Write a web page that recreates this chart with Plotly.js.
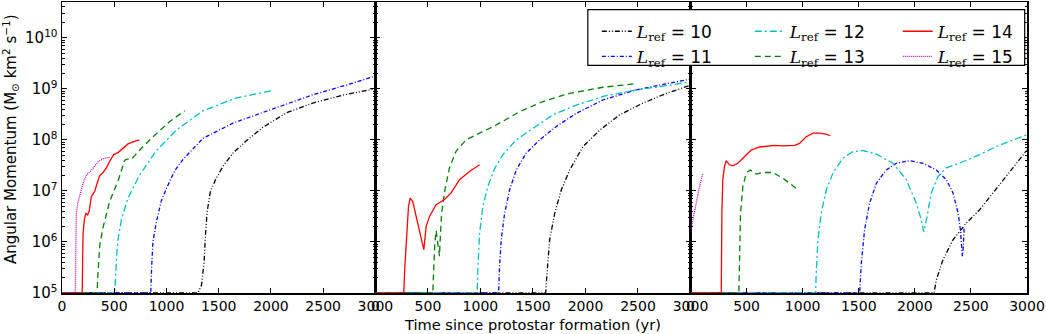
<!DOCTYPE html>
<html>
<head>
<meta charset="utf-8">
<script src="https://cdn.plot.ly/plotly-3.0.1.min.js"></script>
<style>
  html, body { margin: 0; padding: 0; background: #fff; }
  #chart { width: 1046px; height: 334px; }
</style>
</head>
<body>
<div id="chart"></div>
<script>
// Angular momentum vs. time since protostar formation, three runs side by side,
// one curve per refinement level L_ref.

const levels = [10, 11, 12, 13, 14, 15];
const colors = ['#000000', '#0000ff', '#00bfbf', '#008000', '#ff0000', '#bf00bf'];
const dashes = ['5px,2px,1px,2px,1px,2px', '4px,2px,1px,2px', '7px,3px,2px,3px', '6px,4px', 'solid', '1px,1px'];

// ---- Panel 1 ----
const p1_t10 = [0, 1300, 1335, 1360, 1375, 1390, 1420, 1470, 1540, 1640, 1760, 1920, 2150, 2400, 2700, 3000];
const p1_j10 = [1e5, 1e5, 1.41e5, 3.98e5, 1.58e6, 3.98e6, 9.55e6, 1.66e7, 3.02e7, 5.62e7, 9.33e7, 1.74e8, 3.39e8, 5.25e8, 7.59e8, 1e9];
const p1_t11 = [0, 850, 858, 870, 904, 950, 1000, 1080, 1160, 1350, 1640, 2020, 2400, 2800, 3000];
const p1_j11 = [1e5, 1e5, 3.16e5, 1e6, 2.51e6, 6.31e6, 1.12e7, 2.51e7, 4.17e7, 1.07e8, 2.14e8, 3.98e8, 7.59e8, 1.32e9, 1.78e9];
const p1_t12 = [0, 505, 515, 525, 540, 570, 630, 740, 900, 1100, 1350, 1670, 2005];
const p1_j12 = [1e5, 1e5, 2.51e5, 6.31e5, 1.26e6, 2.82e6, 7.08e6, 2e7, 6.03e7, 1.58e8, 3.72e8, 6.61e8, 9.12e8];
const p1_t13 = [0, 336, 342, 350, 362, 395, 457, 537, 600, 625, 665, 700, 744, 872, 1032, 1175];
const p1_j13 = [1e5, 1e5, 2e5, 3.98e5, 8.91e5, 2e6, 6.31e6, 1.58e7, 3.98e7, 4.17e7, 4.17e7, 5.01e7, 6.31e7, 1.15e8, 2.29e8, 3.72e8];
const p1_t14 = [0, 194, 198, 202, 215, 228, 245, 260, 281, 313, 336, 361, 393, 425, 457, 495, 537, 585, 632, 680, 740];
const p1_j14 = [1e5, 1e5, 5.01e5, 1.48e6, 2.82e6, 3.63e6, 3.39e6, 3.98e6, 7.76e6, 9.77e6, 1.41e7, 2e7, 2.29e7, 2.82e7, 3.8e7, 5.13e7, 5.62e7, 6.92e7, 8.32e7, 9.12e7, 1e8];
const p1_t15 = [0, 128, 132, 138, 150, 170, 201, 234, 281, 345, 393, 460];
const p1_j15 = [1e5, 1e5, 7.94e5, 3.63e6, 5.62e6, 7.76e6, 1.41e7, 2.04e7, 2.51e7, 3.72e7, 4.27e7, 4.57e7];

// ---- Panel 2 ----
const p2_t10 = [0, 1621, 1634, 1659, 1707, 1770, 1850, 1977, 2136, 2326, 2549, 2771, 3000];
const p2_j10 = [1e5, 1e5, 2.45e5, 1.1e6, 3.63e6, 1.05e7, 2.57e7, 7.41e7, 1.55e8, 3.09e8, 5.25e8, 8.13e8, 1.17e9];
const p2_t11 = [0, 1173, 1182, 1198, 1230, 1278, 1341, 1436, 1564, 1722, 1913, 2167, 2485, 2803, 3000];
const p2_j11 = [1e5, 1e5, 3.31e5, 1.1e6, 3.63e6, 1.05e7, 2.57e7, 5.5e7, 1e8, 1.82e8, 3.31e8, 6.03e8, 9.55e8, 1.29e9, 1.55e9];
const p2_t12 = [0, 969, 976, 992, 1023, 1071, 1135, 1214, 1341, 1500, 1691, 1913, 2167, 2485, 2803, 3000];
const p2_j12 = [1e5, 1e5, 3.31e5, 1.48e6, 4.9e6, 1.23e7, 2.75e7, 5.13e7, 1e8, 1.7e8, 3.09e8, 4.79e8, 7.08e8, 9.55e8, 1.17e9, 1.38e9];
const p2_t13 = [0, 546, 556, 565, 578, 590, 600, 610, 618, 630, 660, 705, 769, 864, 992, 1150, 1373, 1595, 1850, 2167, 2485];
const p2_j13 = [1e5, 1e5, 3.16e5, 8.91e5, 1.66e6, 1.12e6, 7.08e5, 5.25e5, 1.26e6, 3.55e6, 1e7, 2.82e7, 6.03e7, 1e8, 1.35e8, 1.95e8, 3.55e8, 5.62e8, 8.13e8, 1.07e9, 1.26e9];
const p2_t14 = [0, 270, 280, 292, 315, 331, 356, 388, 420, 451, 461, 483, 515, 578, 658, 721, 801, 896, 992];
const p2_j14 = [1e5, 1e5, 3.16e5, 9.55e5, 4.9e6, 7.24e6, 6.17e6, 3.16e6, 1.58e6, 8.13e5, 7.08e5, 2e6, 3.16e6, 5.37e6, 6.76e6, 9.12e6, 1.66e7, 2.4e7, 3.24e7];

// ---- Panel 3 ----
const p3_t10 = [0, 2171, 2192, 2251, 2340, 2459, 2578, 2697, 2816, 2905, 3000];
const p3_j10 = [1e5, 1e5, 1.82e5, 4.47e5, 1.1e6, 2.34e6, 4.27e6, 9.12e6, 1.91e7, 3.47e7, 6.31e7];
const p3_t11 = [0, 1508, 1523, 1552, 1597, 1657, 1746, 1835, 1954, 2072, 2192, 2281, 2340, 2385, 2406, 2415, 2424, 2432, 2440];
const p3_j11 = [1e5, 1e5, 3.89e5, 1.74e6, 5.75e6, 1.41e7, 2.57e7, 3.47e7, 3.89e7, 3.47e7, 2.57e7, 1.66e7, 9.12e6, 3.72e6, 1.74e6, 8.13e5, 5.25e5, 7.94e5, 2e6];
const p3_t12 = [0, 1115, 1121, 1136, 1166, 1211, 1270, 1359, 1448, 1537, 1657, 1805, 1924, 2013, 2058, 2079, 2103, 2147, 2206, 2281, 2429, 2578, 2727, 2875, 3000];
const p3_j12 = [1e5, 1e5, 2.45e5, 1.1e6, 3.72e6, 1.05e7, 2.24e7, 4.37e7, 5.89e7, 6.17e7, 5.25e7, 3.47e7, 1.66e7, 5.75e6, 2.69e6, 1.58e6, 2.69e6, 9.12e6, 1.91e7, 2.82e7, 3.72e7, 5.13e7, 7.41e7, 1e8, 1.26e8];
const p3_t13 = [0, 431, 437, 446, 467, 497, 533, 586, 645, 734, 823, 883, 943];
const p3_j13 = [1e5, 1e5, 3.89e5, 3.63e6, 1.23e7, 2.24e7, 2.57e7, 2.14e7, 2.29e7, 2.29e7, 1.78e7, 1.41e7, 1.12e7];
const p3_t14 = [0, 274, 280, 288, 303, 318, 348, 378, 422, 482, 541, 616, 700, 749, 824, 928, 972, 1032, 1092, 1121, 1151, 1210, 1246];
const p3_j14 = [1e5, 1e5, 3.98e6, 1.66e7, 3.02e7, 3.89e7, 3.24e7, 3.09e7, 3.47e7, 4.68e7, 6.31e7, 7.24e7, 7.59e7, 7.76e7, 7.59e7, 7.76e7, 8.51e7, 1.15e8, 1.35e8, 1.35e8, 1.35e8, 1.29e8, 1.2e8];
const p3_t15 = [0, 20, 51, 74, 95, 110];
const p3_j15 = [1.58e6, 2.82e6, 5.75e6, 1.05e7, 1.58e7, 2.24e7];

const xTickVals = [0, 500, 1000, 1500, 2000, 2500, 3000];
const yTickVals = [1e5, 1e6, 1e7, 1e8, 1e9, 1e10];
const yTickText = ['10<sup>5</sup>', '10<sup>6</sup>', '10<sup>7</sup>', '10<sup>8</sup>', '10<sup>9</sup>', '10<sup>10</sup>'];
const xTitle = 'Time since protostar formation (yr)';
const yTitle = 'Angular Momentum (M<sub>\u2299</sub> km<sup>2</sup> s<sup>\u22121</sup>)';

const panels = [
  { xa: 'x',  ya: 'y',  series: [[p1_t10, p1_j10], [p1_t11, p1_j11], [p1_t12, p1_j12], [p1_t13, p1_j13], [p1_t14, p1_j14], [p1_t15, p1_j15]] },
  { xa: 'x2', ya: 'y2', series: [[p2_t10, p2_j10], [p2_t11, p2_j11], [p2_t12, p2_j12], [p2_t13, p2_j13], [p2_t14, p2_j14], null] },
  { xa: 'x3', ya: 'y3', series: [[p3_t10, p3_j10], [p3_t11, p3_j11], [p3_t12, p3_j12], [p3_t13, p3_j13], [p3_t14, p3_j14], [p3_t15, p3_j15]] }
];

// legend columns: (10, 11), (12, 13), (14, 15)
const legendColumn = { 10: 'legend', 11: 'legend', 12: 'legend2', 13: 'legend2', 14: 'legend3', 15: 'legend3' };

function levelLabel(L) {
  return '<span style="font-family:\'DejaVu Serif\'"><i>L</i><sub>ref</sub></span> = ' + L;
}

const traces = [];
panels.forEach(function (p, pi) {
  p.series.forEach(function (s, i) {
    if (!s) return;
    const L = levels[i];
    traces.push({
      type: 'scatter', mode: 'lines',
      x: s[0], y: s[1],
      xaxis: p.xa, yaxis: p.ya,
      name: levelLabel(L),
      legend: legendColumn[L],
      showlegend: pi === 0,
      line: { color: colors[i], width: 1.3, dash: dashes[i] },
      hoverinfo: 'skip'
    });
  });
});

const W = 1046, H = 334;
const mL = 62, mR = 18.7, mT = 1.7, mB = 40.7;
const plotW = W - mL - mR, plotH = H - mT - mB;
const xb1 = (375.5 - mL) / plotW, xb2 = (690.7 - mL) / plotW;
const px = v => (v - mL) / plotW;          // pixel column -> paper x
const py = v => (H - mB - v) / plotH;      // pixel row -> paper y

function xAxis(domain, anchor) {
  return {
    domain: domain, anchor: anchor, type: 'linear', range: [0, 3000],
    tickmode: 'array', tickvals: xTickVals,
    ticks: 'inside', ticklen: 5, tickwidth: 1, tickcolor: '#000',
    showline: true, linecolor: '#000', linewidth: 1.5, mirror: 'allticks',
    showgrid: false, zeroline: false,
    tickfont: { family: 'DejaVu Sans', size: 14, color: '#000' }
  };
}
function yAxis(anchor, labels) {
  return {
    anchor: anchor, type: 'log', range: [5, 10.699],
    tickmode: 'array', tickvals: yTickVals, ticktext: yTickText,
    showticklabels: labels,
    ticks: 'inside', ticklen: 5, tickwidth: 1, tickcolor: '#000',
    minor: { ticks: 'inside', ticklen: 2.5, tickwidth: 1, tickcolor: '#000', dtick: 'D1', showgrid: false },
    showline: true, linecolor: '#000', linewidth: 1.5, mirror: 'allticks',
    showgrid: false, zeroline: false,
    tickfont: { family: 'DejaVu Sans', size: 15, color: '#000' }
  };
}
function legendCol(xpix) {
  return {
    orientation: 'v', x: px(xpix), y: py(44), xanchor: 'left', yanchor: 'middle',
    bgcolor: 'rgba(0,0,0,0)', borderwidth: 0, tracegroupgap: 0,
    font: { family: 'DejaVu Sans', size: 17, color: '#000' },
    itemclick: false, itemdoubleclick: false
  };
}

const layout = {
  width: W, height: H,
  margin: { l: mL, r: mR, t: mT, b: mB, pad: 0 },
  paper_bgcolor: '#fff', plot_bgcolor: '#fff',
  font: { family: 'DejaVu Sans', color: '#000' },
  showlegend: true,
  xaxis: xAxis([0, xb1], 'y'),
  xaxis2: xAxis([xb1, xb2], 'y2'),
  xaxis3: xAxis([xb2, 1], 'y3'),
  yaxis: yAxis('x', true),
  yaxis2: yAxis('x2', false),
  yaxis3: yAxis('x3', false),
  legend: legendCol(597),
  legend2: legendCol(750),
  legend3: legendCol(898),
  shapes: [
    { type: 'rect', xref: 'paper', yref: 'paper', layer: 'above',
      x0: px(588), x1: px(1025), y0: py(65.3), y1: py(9.3),
      fillcolor: '#fff', line: { color: '#000', width: 1.2 } }
  ],
  annotations: [
    { text: xTitle, xref: 'paper', yref: 'paper', x: px(533), y: py(325),
      xanchor: 'center', yanchor: 'middle', showarrow: false,
      font: { family: 'DejaVu Sans', size: 14.6, color: '#000' } },
    { text: yTitle, xref: 'paper', yref: 'paper', x: px(10), y: py(139),
      xanchor: 'center', yanchor: 'middle', textangle: -90, showarrow: false,
      font: { family: 'DejaVu Sans', size: 15, color: '#000' } }
  ]
};

Plotly.newPlot('chart', traces, layout, { staticPlot: true, displayModeBar: false });
</script>
</body>
</html>
